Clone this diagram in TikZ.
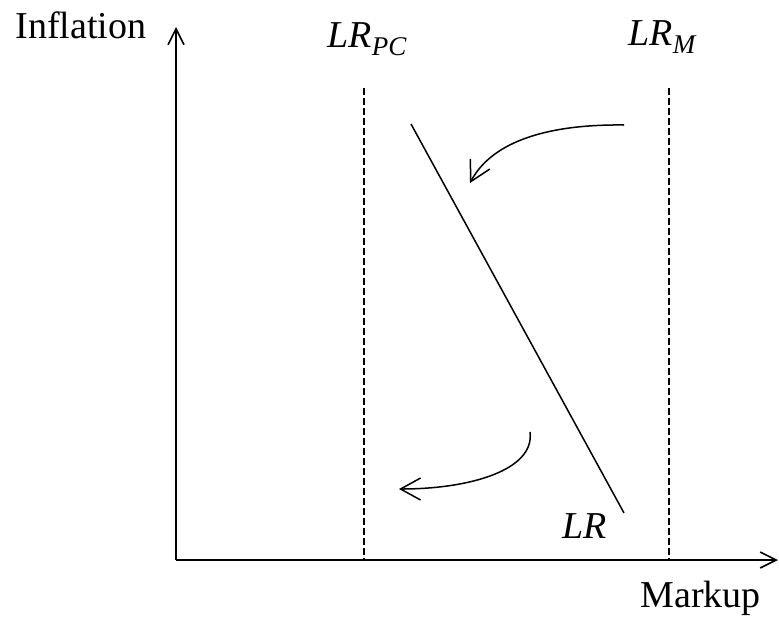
\documentclass[tikz,border=0pt]{standalone}
\usepackage{fontspec}
\setmainfont{Liberation Serif}
\usetikzlibrary{arrows.meta}
\newcommand{\subtxt}[1]{\raisebox{-4pt}{\fontsize{13.5}{13.5}\selectfont\itshape #1}}

\begin{document}
\begin{tikzpicture}[x=0.5pt, y=-0.5pt,
  font=\fontsize{19}{22}\selectfont,
  axis/.style={line width=0.8pt, -{Straight Barb[length=8pt, width=8pt]}},
  guide/.style={line width=0.6pt, dash pattern=on 3.5pt off 1.5pt},
  curve/.style={line width=0.75pt, -{Straight Barb[length=10pt, width=11pt]}},
  lbl/.style={inner sep=0pt, anchor=base west}
]
\useasboundingbox (0,0) rectangle (779,621);

% axes
\coordinate (o) at (176,560);
\coordinate (ytop) at (176,27);
\coordinate (xend) at (778,560);
\draw[axis] (o) -- (ytop);
\draw[axis] (o) -- (xend);
\node[lbl] (infl) at (15,38) {Inflation};
\node[lbl] (mkup) at (640,607) {Markup};

% vertical long-run lines
\coordinate (pctop) at (364,88);
\coordinate (pcbot) at (364,560);
\coordinate (mtop) at (669,88);
\coordinate (mbot) at (669,560);
\draw[guide] (pctop) -- (pcbot);
\draw[guide] (mtop) -- (mbot);
\node[lbl] (lrpc) at (327,47) {\textit{LR}\subtxt{PC}};
\node[lbl] (lrm) at (628,45) {\textit{LR}\subtxt{M}};

% LR schedule
\coordinate (lra) at (411,124);
\coordinate (lrb) at (624,513);
\draw[line width=0.75pt] (lra) -- (lrb);
\node[lbl] (lr) at (562,538) {\textit{LR}};

% shifts
\coordinate (s1) at (624,125);
\coordinate (e1) at (470,183);
\coordinate (s2) at (530,432);
\coordinate (e2) at (399,489);
\draw[curve] (s1) .. controls (540,124) and (490,145) .. (e1);
\draw[curve] (s2) .. controls (535,470) and (470,489) .. (e2);
\end{tikzpicture}
\end{document}
